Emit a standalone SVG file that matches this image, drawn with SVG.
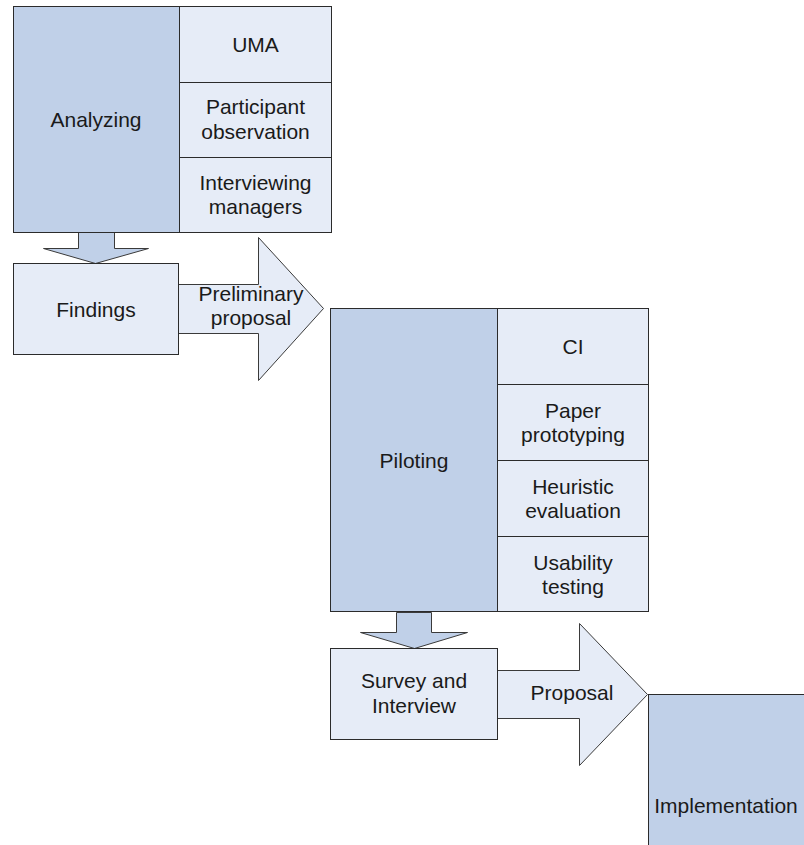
<svg xmlns="http://www.w3.org/2000/svg" width="804" height="845" viewBox="0 0 804 845">
  <style>
    .main { fill: #c0d0e8; stroke: #2b2b2b; stroke-width: 1; }
    .sub { fill: #e6ecf7; stroke: #2b2b2b; stroke-width: 1; }
    .arrow-dark { fill: #c0d0e8; stroke: #3a3a3a; stroke-width: 1; stroke-linejoin: miter; }
    .arrow-light { fill: #e6ecf7; stroke: #3a3a3a; stroke-width: 1; stroke-linejoin: miter; }
    text { font-family: "Liberation Sans", Arial, sans-serif; font-size: 21px; fill: #1a1a1a; text-anchor: middle; }
  </style>

  <!-- connectors: block arrows between stages -->
  <g id="connectors">
    <polygon class="arrow-dark" points="78.5,232.5 114.5,232.5 114.5,248.5 148.5,248.5 95.5,263.5 43.5,248.5 78.5,248.5"/>
    <polygon class="arrow-light" points="178.5,284.5 258.5,284.5 258.5,237.5 323.5,308.5 258.5,380.5 258.5,333.5 178.5,333.5"/>
    <text x="251" y="301">Preliminary</text>
    <text x="251" y="325">proposal</text>
    <polygon class="arrow-dark" points="396.5,612.5 431.5,612.5 431.5,632.5 467.5,632.5 414.5,648.5 360.5,632.5 396.5,632.5"/>
    <polygon class="arrow-light" points="496.5,670.5 579.5,670.5 579.5,623.5 647.5,694.5 579.5,765.5 579.5,718.5 496.5,718.5"/>
    <text x="572" y="700">Proposal</text>
  </g>

  <!-- stage 1: analyzing -->
  <g id="analyzing">
    <rect class="main" x="13.5" y="6.5" width="166" height="226"/>
    <text x="96" y="126.5">Analyzing</text>
  </g>
  <g id="uma">
    <rect class="sub" x="179.5" y="6.5" width="152" height="76"/>
    <text x="255.5" y="52">UMA</text>
  </g>
  <g id="participant-observation">
    <rect class="sub" x="179.5" y="82.5" width="152" height="75"/>
    <text x="255.5" y="114">Participant</text>
    <text x="255.5" y="138.5">observation</text>
  </g>
  <g id="interviewing-managers">
    <rect class="sub" x="179.5" y="157.5" width="152" height="75"/>
    <text x="255.5" y="190">Interviewing</text>
    <text x="255.5" y="214">managers</text>
  </g>

  <g id="findings">
    <rect class="sub" x="13.5" y="263.5" width="165" height="91"/>
    <text x="96" y="316.5">Findings</text>
  </g>

  <!-- stage 2: piloting -->
  <g id="piloting">
    <rect class="main" x="330.5" y="308.5" width="167" height="303"/>
    <text x="414" y="467.5">Piloting</text>
  </g>
  <g id="ci">
    <rect class="sub" x="497.5" y="308.5" width="151" height="76"/>
    <text x="573" y="353.5">CI</text>
  </g>
  <g id="paper-prototyping">
    <rect class="sub" x="497.5" y="384.5" width="151" height="76"/>
    <text x="573" y="417.5">Paper</text>
    <text x="573" y="441.5">prototyping</text>
  </g>
  <g id="heuristic-evaluation">
    <rect class="sub" x="497.5" y="460.5" width="151" height="76"/>
    <text x="573" y="493.5">Heuristic</text>
    <text x="573" y="517.5">evaluation</text>
  </g>
  <g id="usability-testing">
    <rect class="sub" x="497.5" y="536.5" width="151" height="75"/>
    <text x="573" y="569.5">Usability</text>
    <text x="573" y="593.5">testing</text>
  </g>

  <g id="survey-interview">
    <rect class="sub" x="330.5" y="648.5" width="167" height="91"/>
    <text x="414" y="688">Survey and</text>
    <text x="414" y="713">Interview</text>
  </g>

  <!-- stage 3: implementation (runs off the page edge) -->
  <g id="implementation">
    <rect class="main" x="648.5" y="694.5" width="200" height="200"/>
    <text x="726" y="813">Implementation</text>
  </g>
</svg>
